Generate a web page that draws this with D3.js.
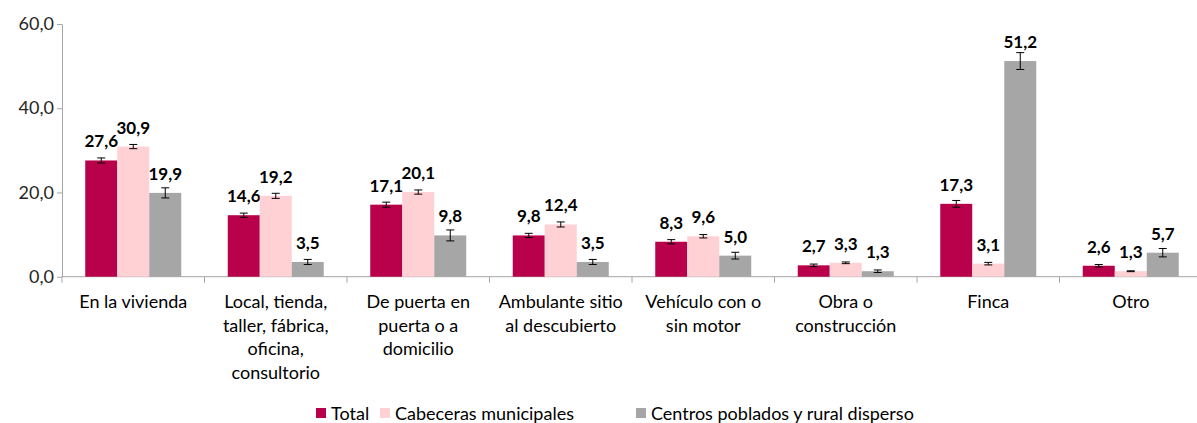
<!DOCTYPE html>
<html><head><meta charset="utf-8">
<script src="https://cdn.jsdelivr.net/npm/d3@7"></script>
<style>body{margin:0;background:#fff}svg{display:block}</style>
</head><body><svg id="c" width="1197" height="423"></svg>
<script>
const categories = [
  ["En la vivienda"],
  ["Local, tienda,", "taller, fábrica,", "oficina,", "consultorio"],
  ["De puerta en", "puerta o a", "domicilio"],
  ["Ambulante sitio", "al descubierto"],
  ["Vehículo con o", "sin motor"],
  ["Obra o", "construcción"],
  ["Finca"],
  ["Otro"]
];
const seriesNames = ["Total", "Cabeceras municipales", "Centros poblados y rural disperso"];
const totalVals = [27.6, 14.6, 17.1, 9.8, 8.3, 2.7, 17.3, 2.6];
const cabecerasVals = [30.9, 19.2, 20.1, 12.4, 9.6, 3.3, 3.1, 1.3];
const centrosVals = [19.9, 3.5, 9.8, 3.5, 5.0, 1.3, 51.2, 5.7];
const totalErr = [0.6, 0.5, 0.6, 0.5, 0.5, 0.3, 0.8, 0.3];
const cabecerasErr = [0.5, 0.6, 0.5, 0.6, 0.4, 0.2, 0.3, 0.1];
const centrosErr = [1.2, 0.6, 1.3, 0.6, 0.8, 0.3, 2.0, 1.0];
const yTicks = [0, 20, 40, 60];
const colors = ["#b8004b", "#ffd0d4", "#a6a6a6"];

const values = [totalVals, cabecerasVals, centrosVals];
const errs = [totalErr, cabecerasErr, centrosErr];
const svg = d3.select("#c");
const font = "Lato, 'Open Sans', sans-serif";
const left = 62, right = 1202, y0px = 276.7, ytop = 24;

const x = d3.scaleBand().domain(d3.range(categories.length)).range([left, right]).paddingInner(0).paddingOuter(0);
const inner = d3.scaleBand().domain([0,1,2]).range([0, 96]);
const offset = (x.bandwidth() - 96) / 2;
const y = d3.scaleLinear().domain([0, 60]).range([y0px, ytop]);
const fmt = v => d3.format(".1f")(v).replace(".", ",");

// y axis
const yAxis = svg.append("g").attr("transform", `translate(${left},0)`)
  .call(d3.axisLeft(y).tickValues(yTicks).tickFormat(fmt).tickSize(5).tickSizeOuter(0));
yAxis.select(".domain").attr("stroke", "#a6a6a6");
yAxis.selectAll(".tick line").attr("stroke", "#a6a6a6");
yAxis.selectAll(".tick text").attr("font-family", font).attr("font-size", 18).attr("fill", "#262626").attr("x", -8);

// x axis
svg.append("line").attr("x1", left).attr("x2", right).attr("y1", y(0)).attr("y2", y(0)).attr("stroke", "#a6a6a6");
const bounds = d3.range(categories.length + 1).map(i => left + i * x.bandwidth());
svg.selectAll(".xt").data(bounds).join("line")
  .attr("x1", d => d).attr("x2", d => d).attr("y1", y(0)).attr("y2", y(0) + 6).attr("stroke", "#a6a6a6");

// bars
values.forEach((vals, s) => {
  const g = svg.append("g");
  vals.forEach((v, i) => {
    const bx = x(i) + offset + inner(s);
    const bw = inner.bandwidth();
    g.append("rect").attr("x", bx).attr("width", bw).attr("y", y(v)).attr("height", y(0) - y(v)).attr("fill", colors[s]);
    const e = errs[s][i];
    const cx = bx + bw / 2;
    g.append("line").attr("x1", cx).attr("x2", cx).attr("y1", y(v + e)).attr("y2", y(v - e)).attr("stroke", "#000").attr("stroke-width", 1);
    [v + e, v - e].forEach(t => g.append("line").attr("x1", cx - 4).attr("x2", cx + 4).attr("y1", y(t)).attr("y2", y(t)).attr("stroke", "#000").attr("stroke-width", 1));
    g.append("text").attr("x", cx).attr("y", y(v) - 13).attr("text-anchor", "middle")
      .attr("font-family", font).attr("font-weight", "bold").attr("font-size", 17).attr("fill", "#000").text(fmt(v));
  });
});

// category labels
categories.forEach((lines, i) => {
  const t = svg.append("text").attr("text-anchor", "middle").attr("font-family", font).attr("font-size", 18).attr("fill", "#000");
  lines.forEach((l, j) => t.append("tspan").attr("x", x(i) + x.bandwidth() / 2).attr("y", 308 + j * 23.5).text(l));
});

// legend
const legX = [316, 380, 636];
seriesNames.forEach((n, s) => {
  svg.append("rect").attr("x", legX[s]).attr("y", 408).attr("width", 10).attr("height", 10).attr("fill", colors[s]);
  svg.append("text").attr("x", legX[s] + 15).attr("y", 420).attr("font-family", font).attr("font-size", 18).attr("fill", "#000").text(n);
});
</script></body></html>
